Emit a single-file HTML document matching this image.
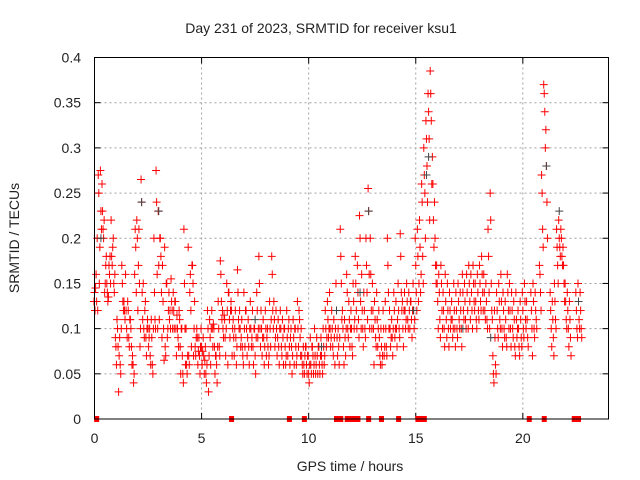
<!DOCTYPE html>
<html><head><meta charset="utf-8"><style>
body{margin:0;background:#fff;}
svg{display:block;font-family:"Liberation Sans",sans-serif;}
</style></head><body>
<svg id="chart" width="640" height="480" viewBox="0 0 640 480">
<rect x="0" y="0" width="640" height="480" fill="#fff"/>
<text x="321" y="33" font-size="14" text-anchor="middle" fill="#222">Day 231 of 2023, SRMTID for receiver ksu1</text>
<g id="grid"></g>
<g id="ticks"></g>
<g id="marks"></g>
<rect x="94.5" y="57.5" width="514" height="361.5" fill="none" stroke="#000" stroke-width="1"/>
<text x="350" y="471" font-size="14" text-anchor="middle" fill="#222">GPS time / hours</text>
<text x="19" y="238" font-size="14" text-anchor="middle" fill="#222" transform="rotate(-90 19 238)">SRMTID / TECUs</text>
</svg>
<script>
const xTicks=[0,5,10,15,20];
const yTicks=[0,0.05,0.1,0.15,0.2,0.25,0.3,0.35,0.4];
const yTickLabels=["0","0.05","0.1","0.15","0.2","0.25","0.3","0.35","0.4"];
const redSamples=[
[0.0,.13,.14,.12,.145],[0.1,.16,.13,.2,.12],[0.2,.27,.25,.15,.19],[0.3,.275,.23,.21,.26],[0.4,.23,.21,.2,.22],
[0.5,.14,.15,.17,.18],[0.6,.15,.14,.13,.135],[0.7,.17,.16,.18,.15],[0.8,.22,.18,.17,.19],[0.9,.2,.15,.14,.16],
[1.0,.09,.08,.06,.11],[1.1,.1,.08,.03,.07],[1.2,.09,.06,.05,.1],[1.3,.17,.15,.13,.12],[1.4,.13,.12,.11,.16],
[1.5,.12,.1,.09,.13],[1.6,.12,.09,.08,.11],[1.7,.11,.1,.08,.06],[1.8,.07,.06,.04,.05],[1.9,.16,.21,.19,.14],
[2.0,.22,.2,.12,.17],[2.1,.21,.15,.08,.1],[2.2,.265,.24,.14,.11],[2.3,.15,.1,.09,.12],[2.4,.13,.09,.07,.1],
[2.5,.11,.1,.08,.09],[2.6,.1,.07,.06,.11],[2.7,.09,.06,.05,.1],[2.8,.2,.14,.11,.1],[2.9,.275,.24,.16,.1],
[3.0,.23,.17,.11,.2],[3.1,.2,.18,.14,.09],[3.2,.17,.13,.1,.065],[3.3,.19,.08,.07,.15],[3.4,.15,.09,.1,.12],
[3.5,.14,.11,.12,.1],[3.6,.155,.13,.12,.1],[3.7,.14,.12,.1,.13],[3.8,.13,.1,.07,.115],[3.9,.1,.09,.08,.12],
[4.0,.11,.08,.05,.1],[4.1,.1,.07,.05,.04],[4.2,.21,.15,.1,.06],[4.3,.1,.06,.05,.07],[4.4,.19,.07,.06,.14],
[4.5,.16,.12,.08,.17],[4.6,.17,.15,.07,.1],[4.7,.13,.08,.07,.09],[4.8,.1,.09,.06,.075],[4.9,.09,.07,.05,.08],
[5.0,.1,.08,.06,.075],[5.1,.09,.07,.05,.065],[5.2,.08,.05,.04,.06],[5.3,.12,.1,.03,.07],[5.4,.11,.09,.06,.1],
[5.5,.12,.1,.08,.105],[5.6,.1,.08,.05,.07],[5.7,.07,.06,.04,.08],[5.8,.13,.1,.08,.07],[5.9,.175,.16,.13,.11],
[6.0,.12,.1,.09,.115],[6.1,.11,.09,.07,.1],[6.2,.15,.12,.06,.14],[6.3,.14,.11,.09,.12],[6.4,.13,.12,.07,.1],
[6.5,.11,.09,.07,.1],[6.6,.12,.09,.06,.08],[6.7,.165,.14,.11,.1],[6.8,.12,.1,.08,.09],[6.9,.11,.08,.07,.06],
[7.0,.14,.1,.08,.12],[7.1,.12,.1,.07,.09],[7.2,.11,.08,.06,.1],[7.3,.13,.1,.08,.09],[7.4,.12,.08,.06,.1],
[7.5,.1,.07,.05,.09],[7.6,.14,.12,.09,.1],[7.7,.18,.15,.1,.08],[7.8,.12,.1,.07,.09],[7.9,.11,.09,.06,.08],
[8.0,.12,.1,.07,.09],[8.1,.1,.08,.06,.07],[8.2,.13,.1,.08,.11],[8.3,.18,.16,.12,.1],[8.4,.13,.11,.08,.09],
[8.5,.12,.1,.07,.09],[8.6,.11,.08,.06,.1],[8.7,.12,.1,.08,.07],[8.8,.11,.09,.06,.1],[8.9,.1,.08,.06,.07],
[9.0,.12,.09,.07,.1],[9.1,.11,.08,.06,.09],[9.2,.1,.08,.05,.07],[9.3,.11,.09,.06,.1],[9.4,.1,.08,.06,.07],
[9.5,.13,.1,.08,.12],[9.6,.11,.09,.07,.1],[9.7,.07,.06,.05,.08],[9.8,.06,.05,.07,.08],[9.9,.08,.06,.05,.07],
[10.0,.07,.05,.04,.06],[10.1,.09,.06,.05,.08],[10.2,.08,.07,.05,.06],[10.3,.1,.07,.05,.06],[10.4,.09,.07,.05,.08],
[10.5,.08,.06,.05,.07],[10.6,.09,.07,.06,.05],[10.7,.1,.08,.06,.07],[10.8,.12,.1,.08,.09],[10.9,.13,.11,.09,.1],
[11.0,.14,.1,.08,.09],[11.1,.12,.1,.08,.07],[11.2,.11,.09,.06,.1],[11.3,.15,.12,.09,.07],[11.4,.1,.08,.06,.09],
[11.5,.21,.18,.15,.11],[11.6,.12,.1,.08,.06],[11.7,.11,.09,.07,.1],[11.8,.16,.14,.1,.09],[11.9,.13,.11,.08,.1],
[12.0,.12,.1,.08,.07],[12.1,.15,.13,.1,.11],[12.2,.18,.15,.12,.1],[12.3,.17,.14,.11,.09],[12.4,.225,.2,.13,.1],
[12.5,.16,.12,.1,.08],[12.6,.14,.12,.1,.09],[12.7,.2,.17,.14,.11],[12.8,.255,.23,.16,.1],[12.9,.2,.16,.12,.1],
[13.0,.15,.12,.1,.06],[13.1,.13,.11,.09,.08],[13.2,.14,.11,.08,.1],[13.3,.12,.09,.07,.06],[13.4,.1,.08,.06,.07],
[13.5,.12,.1,.07,.08],[13.6,.13,.1,.08,.07],[13.7,.2,.17,.14,.1],[13.8,.12,.1,.08,.09],[13.9,.11,.09,.07,.1],
[14.0,.14,.12,.09,.1],[14.1,.13,.1,.08,.11],[14.2,.15,.12,.1,.09],[14.3,.205,.18,.14,.12],[14.4,.13,.1,.08,.12],
[14.5,.14,.12,.1,.11],[14.6,.15,.13,.11,.1],[14.7,.14,.12,.1,.13],[14.8,.13,.11,.09,.12],[14.9,.15,.12,.1,.11],
[15.0,.2,.17,.14,.12],[15.1,.21,.18,.13,.15],[15.2,.22,.19,.14,.16],[15.3,.26,.24,.18,.15],[15.4,.3,.27,.25,.2],
[15.5,.33,.31,.28,.24],[15.6,.36,.34,.31,.22],[15.7,.385,.36,.33,.26],[15.8,.29,.26,.22,.19],[15.9,.24,.2,.17,.15],
[16.0,.17,.15,.13,.1],[16.1,.16,.14,.11,.09],[16.2,.17,.15,.12,.1],[16.3,.14,.12,.1,.08],[16.4,.16,.13,.11,.09],
[16.5,.15,.12,.1,.08],[16.6,.14,.12,.1,.11],[16.7,.13,.11,.09,.1],[16.8,.15,.12,.1,.08],[16.9,.14,.12,.1,.09],
[17.0,.15,.13,.11,.1],[17.1,.14,.12,.1,.08],[17.2,.16,.14,.12,.11],[17.3,.15,.13,.11,.1],[17.4,.16,.14,.12,.1],
[17.5,.17,.15,.13,.11],[17.6,.16,.14,.12,.1],[17.7,.17,.15,.13,.12],[17.8,.15,.13,.11,.1],[17.9,.16,.14,.12,.11],
[18.0,.17,.15,.13,.12],[18.1,.18,.16,.14,.12],[18.2,.16,.14,.12,.11],[18.3,.15,.13,.11,.1],[18.4,.21,.18,.14,.1],
[18.5,.25,.22,.15,.12],[18.6,.11,.07,.05,.04],[18.7,.12,.09,.06,.05],[18.8,.14,.12,.1,.09],[18.9,.15,.13,.11,.1],
[19.0,.16,.13,.1,.08],[19.1,.14,.12,.1,.09],[19.2,.13,.11,.09,.08],[19.3,.16,.14,.12,.1],[19.4,.15,.12,.1,.08],
[19.5,.14,.12,.1,.09],[19.6,.13,.11,.08,.07],[19.7,.14,.11,.09,.1],[19.8,.12,.1,.08,.07],[19.9,.13,.11,.09,.08],
[20.0,.14,.12,.1,.09],[20.1,.15,.13,.11,.1],[20.2,.13,.11,.09,.08],[20.4,.14,.12,.1,.07],[20.5,.15,.13,.1,.09],
[20.6,.14,.12,.11,.1],[20.8,.17,.16,.14,.12],[20.9,.27,.25,.21,.19],[21.0,.37,.36,.34,.3],[21.1,.32,.28,.24,.2],
[21.3,.14,.12,.1,.08],[21.4,.13,.11,.09,.07],[21.5,.15,.13,.11,.1],[21.6,.21,.19,.17,.15],[21.7,.22,.2,.19,.18],
[21.8,.21,.2,.18,.17],[21.9,.19,.17,.15,.13],[22.0,.15,.13,.11,.1],[22.1,.14,.12,.1,.08],[22.2,.13,.11,.09,.07],
[22.5,.14,.12,.1,.09],[22.6,.15,.13,.11,.1],[22.7,.14,.12,.1,.09]
];
const darkHours=[0.3,2.2,3.0,7.5,11.3,12.4,12.8,15.5,15.6,17.2,18.5,21.1,21.7,22.6,10.6,14.9];
const darkValues=[0.2,0.24,0.23,0.11,0.12,0.14,0.23,0.27,0.29,0.1,0.09,0.28,0.23,0.13,0.08,0.12];
const zeroHours=[0.1,6.4,9.1,9.8,11.3,11.5,11.8,12.0,12.1,12.3,12.8,13.4,14.2,15.1,15.3,15.4,20.3,21.0,22.4,22.6];

const X0=94.5,X1=608.5,Y0=419,Y1=57.5,XMAX=24,YMAX=0.4;
const sx=h=>X0+(X1-X0)*h/XMAX;
const sy=v=>Y0-(Y0-Y1)*v/YMAX;
const NS="http://www.w3.org/2000/svg";
function mk(tag,attrs,parent){const e=document.createElementNS(NS,tag);for(const k in attrs)e.setAttribute(k,attrs[k]);parent.appendChild(e);return e;}
const grid=document.getElementById('grid'),ticks=document.getElementById('ticks'),marks=document.getElementById('marks');
xTicks.forEach(t=>{
  const x=sx(t);
  if(t>0){const g=mk('line',{x1:x,x2:x,y1:Y1,y2:Y0,stroke:'#a0a0a0','stroke-dasharray':'2,3'},grid);
  
  }
  const a=mk('line',{x1:x,x2:x,y1:Y0,y2:Y0-6,stroke:'#000'},ticks);
  
  
  const b=mk('line',{x1:x,x2:x,y1:Y1,y2:Y1+6,stroke:'#000'},ticks);
  
  
  const l=mk('text',{x:x,y:443,'font-size':14,'text-anchor':'middle',fill:'#222'},ticks);
  l.textContent=String(t);
  
  
});
yTicks.forEach((t,i)=>{
  const y=sy(t);
  if(t>0&&t<YMAX){const g=mk('line',{x1:X0,x2:X1,y1:y,y2:y,stroke:'#a0a0a0','stroke-dasharray':'2,3'},grid);
  
  }
  const a=mk('line',{x1:X0,x2:X0+6,y1:y,y2:y,stroke:'#000'},ticks);
  
  
  const b=mk('line',{x1:X1,x2:X1-6,y1:y,y2:y,stroke:'#000'},ticks);
  
  
  const l=mk('text',{x:81,y:y+5,'font-size':14,'text-anchor':'end',fill:'#222'},ticks);
  l.textContent=yTickLabels[i];
  
  
});
function plus(h,v,color,name){
  const x=sx(h),y=sy(v);
  const p=mk('path',{d:`M${x-4} ${y}H${x+4}M${x} ${y-4}V${y+4}`,stroke:color,'stroke-width':1,fill:'none'},marks);
  
  
}
redSamples.forEach(r=>{for(let i=1;i<r.length;i++)plus(r[0]+(i-2)*0.025,r[i],'#ff0000','red-point');});
darkHours.forEach((h,i)=>plus(h,darkValues[i],'#444','dark-point'));
zeroHours.forEach(h=>{
  const r=mk('rect',{x:sx(h)-2.5,y:Y0-3,width:5,height:6,fill:'#ff0000'},marks);
  
  
});
</script>
</body></html>
